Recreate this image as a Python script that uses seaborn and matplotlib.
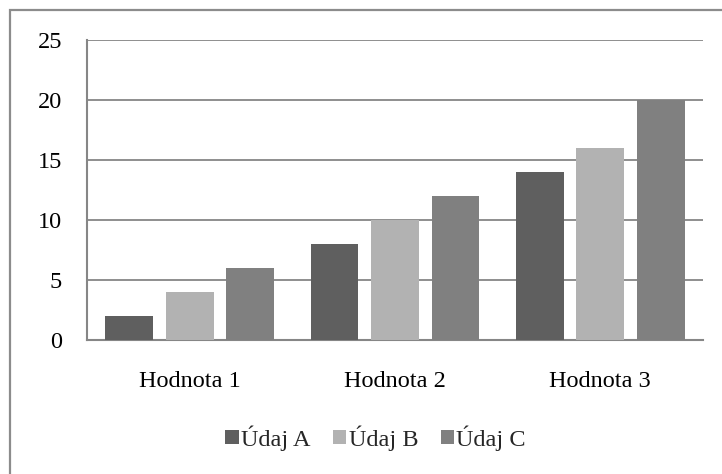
import pandas as pd
import matplotlib.pyplot as plt
import seaborn as sns
from matplotlib.patches import Rectangle, Patch

# Chart data
categories = ["Hodnota 1", "Hodnota 2", "Hodnota 3"]
series_names = ["Údaj A", "Údaj B", "Údaj C"]
udaj_a = [2, 8, 14]
udaj_b = [4, 10, 16]
udaj_c = [6, 12, 20]
y_ticks = [0, 5, 10, 15, 20, 25]

colors = ["#5f5f5f", "#b2b2b2", "#808080"]
grid_col = "#868686"


def main():
    # Long format table for seaborn
    rows = []
    for name, vals in zip(series_names, [udaj_a, udaj_b, udaj_c]):
        for cat, v in zip(categories, vals):
            rows.append({"kategorie": cat, "udaj": name, "hodnota": v})
    df = pd.DataFrame(rows)

    sns.set_theme(style="white")
    plt.rcParams["font.family"] = ["Liberation Serif", "DejaVu Serif"]

    fig = plt.figure(figsize=(7.22, 4.74), dpi=100)
    ax = fig.add_axes([87 / 722, 1 - 340 / 474, 616 / 722, 300 / 474])

    sns.barplot(data=df, x="kategorie", y="hodnota", hue="udaj",
                order=categories, hue_order=series_names, palette=colors,
                width=0.884, gap=0.207, saturation=1, linewidth=0,
                legend=False, ax=ax, zorder=3)

    ax.set_xlim(-0.5, 2.5)
    ax.set_ylim(0, 25)
    ax.set_yticks(y_ticks)
    ax.yaxis.grid(True, color=grid_col, linewidth=1.3)
    ax.set_axisbelow(True)
    ax.set_xlabel("")
    ax.set_ylabel("")

    for side in ["top", "right"]:
        ax.spines[side].set_visible(False)
    for side in ["left", "bottom"]:
        ax.spines[side].set_color(grid_col)
        ax.spines[side].set_linewidth(1.5)

    ax.tick_params(axis="x", length=0, pad=22, labelsize=17.5, colors="black")
    ax.tick_params(axis="y", length=0, pad=18, labelsize=17.5, colors="black")

    # Legend with small square markers (chart is wider than the crop, so it sits right of centre)
    handles = [Patch(facecolor=c, edgecolor="none") for c in colors]
    fig.legend(handles, series_names, loc="center", bbox_to_anchor=(375.5 / 722, 1 - 438 / 474),
               ncol=3, frameon=False, fontsize=17.5, handlelength=0.55,
               handleheight=0.55, handletextpad=0.1, columnspacing=0.92)

    # Outer chart border (only left and top visible in the picture)
    fig.add_artist(Rectangle((10 / 722, -0.2), 1.5, 1.2 - 10 / 474,
                             transform=fig.transFigure, fill=False,
                             edgecolor="#8c8c8c", linewidth=1.6))

    fig.savefig("out.png", dpi=100)


if __name__ == "__main__":
    main()
